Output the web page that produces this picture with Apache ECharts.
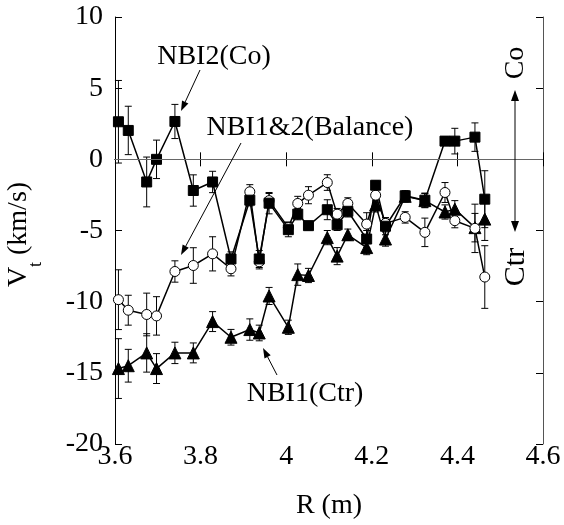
<!DOCTYPE html>
<html lang="en">
<head>
    <meta charset="UTF-8">
    <title>Vt profile</title>
    <script src="https://cdn.jsdelivr.net/npm/echarts@6/dist/echarts.min.js"></script>
    <style>
        html, body { margin: 0; padding: 0; background: #fff; }
        #chart { width: 564px; height: 525px; }
    </style>
</head>
<body>
<div id="chart"></div>
<script type="text/javascript">
    // major radius R (m), shared by the three profiles
    var R = [3.608, 3.631, 3.674, 3.697, 3.740, 3.783, 3.828, 3.871, 3.915, 3.937, 3.960, 4.005, 4.027,
        4.052, 4.096, 4.119, 4.144, 4.188, 4.209, 4.232, 4.278, 4.324, 4.371, 4.394, 4.441, 4.464];

    // NBI2 (Co)
    var co = [2.64, 2.03, -1.59, 0.0, 2.66, -2.19, -1.59, -7.0, -2.87, -7.0, -3.08, -4.94, -3.85,
        -4.66, -3.54, -4.6, -3.65, -5.6, -1.82, -4.7, -2.56, -2.87, 1.28, 1.28, 1.56, -2.8];
    var coErr = [2.9, 1.7, 1.75, 1.35, 1.2, 1.1, 0.75, 0.5, 0.4, 0.6, 0.75, 0.5, 0.4,
        0.3, 0.7, 0.4, 0.4, 0.6, 0.3, 0.6, 0.3, 0.5, 0.3, 0.9, 1.0, 2.0];

    // NBI1&2 (Balance)
    var bal = [-9.86, -10.6, -10.9, -11.0, -7.88, -7.46, -6.64, -7.69, -2.28, -7.2, -2.9, -4.8, -3.1,
        -2.52, -1.63, -3.85, -3.1, -4.55, -2.52, -4.5, -4.08, -5.13, -2.33, -4.31, -4.85, -8.27];
    var balErr = [2.1, 1.05, 1.5, 1.35, 0.75, 1.25, 1.2, 0.5, 0.5, 0.5, 0.5, 0.4, 0.5,
        0.6, 0.55, 0.4, 0.4, 0.8, 0.4, 0.4, 0.4, 1.0, 0.7, 0.5, 1.7, 2.2];

    // NBI1 (Ctr)
    var ctr = [-14.7, -14.5, -13.6, -14.7, -13.6, -13.6, -11.4, -12.5, -11.96, -12.2, -9.6, -11.8, -8.1,
        -8.16, -5.5, -6.8, -5.3, -6.2, -3.2, -5.6, -2.6, -2.9, -3.7, -3.5, -4.8, -4.2];
    var ctrErr = [2.1, 1.15, 1.35, 1.05, 0.75, 0.7, 0.7, 0.55, 0.75, 0.55, 0.6, 0.5, 0.75,
        0.5, 0.5, 0.6, 0.4, 0.5, 0.5, 0.5, 0.4, 0.5, 0.5, 0.6, 1.0, 1.5];

    var font = '"Liberation Serif", "Times New Roman", serif';

    function pairs(ys) {
        var out = [];
        for (var i = 0; i < R.length; i++) out.push([R[i], ys[i]]);
        return out;
    }

    function errs(ys, es) {
        var out = [];
        for (var i = 0; i < R.length; i++) out.push([R[i], ys[i] - es[i], ys[i] + es[i]]);
        return out;
    }

    function errorBars(name, data) {
        return {
            name: name,
            type: 'custom',
            data: data,
            encode: {x: 0, y: [1, 2]},
            z: 1,
            renderItem: function (params, api) {
                var top = api.coord([api.value(0), api.value(2)]);
                var bot = api.coord([api.value(0), api.value(1)]);
                var w = 3.5;
                var st = {stroke: '#000', lineWidth: 1};
                return {
                    type: 'group',
                    children: [
                        {type: 'line', shape: {x1: top[0], y1: top[1], x2: bot[0], y2: bot[1]}, style: st},
                        {type: 'line', shape: {x1: top[0] - w, y1: top[1], x2: top[0] + w, y2: top[1]}, style: st},
                        {type: 'line', shape: {x1: bot[0] - w, y1: bot[1], x2: bot[0] + w, y2: bot[1]}, style: st}
                    ]
                };
            }
        };
    }

    function profile(name, data, symbol, size, fill) {
        return {
            name: name,
            type: 'line',
            data: data,
            symbol: symbol,
            symbolSize: size,
            showAllSymbol: true,
            z: 3,
            lineStyle: {color: '#000', width: 1.5},
            itemStyle: {color: fill, borderColor: '#000', borderWidth: 1, opacity: 1}
        };
    }

    // arrow with filled head at (x2, y2)
    function arrow(x1, y1, x2, y2, len, half) {
        var dx = x2 - x1, dy = y2 - y1;
        var d = Math.sqrt(dx * dx + dy * dy);
        var ux = dx / d, uy = dy / d;
        var bx = x2 - ux * len, by = y2 - uy * len;
        return [
            {type: 'line', z: 10, shape: {x1: x1, y1: y1, x2: bx, y2: by}, style: {stroke: '#000', lineWidth: 1}},
            {type: 'polygon', z: 10, shape: {points: [[x2, y2], [bx - uy * half, by + ux * half], [bx + uy * half, by - ux * half]]},
                style: {fill: '#000'}}
        ];
    }

    function label(text, x, y, size, rot) {
        return {
            type: 'text', z: 10, x: x, y: y, rotation: rot || 0,
            style: {text: text, font: size + 'px ' + font, fill: '#000', align: 'center', verticalAlign: 'middle'}
        };
    }

    var graphics = [
        label('NBI2(Co)', 214, 57, 28),
        label('NBI1&2(Balance)', 310, 128, 28),
        label('NBI1(Ctr)', 305, 394, 28),
        label('Co', 516, 63, 28, Math.PI / 2),
        label('Ctr', 516, 267, 30, Math.PI / 2),
        {
            type: 'line', z: 10, shape: {x1: 515, y1: 100, x2: 515, y2: 222},
            style: {stroke: '#000', lineWidth: 1}
        },
        {type: 'polygon', z: 10, shape: {points: [[515, 90], [511, 101], [519, 101]]}, style: {fill: '#000'}},
        {type: 'polygon', z: 10, shape: {points: [[515, 232], [511, 221], [519, 221]]}, style: {fill: '#000'}},
        {
            type: 'group', x: 19, y: 287, rotation: Math.PI / 2,
            children: [
                {type: 'text', x: 0, y: 0, style: {text: 'V', font: '28px ' + font, fill: '#000', align: 'left', verticalAlign: 'middle'}},
                {type: 'text', x: 20, y: 17, style: {text: 't', font: '18px ' + font, fill: '#000', align: 'left', verticalAlign: 'middle'}},
                {type: 'text', x: 32, y: 0, style: {text: '(km/s)', font: '28px ' + font, fill: '#000', align: 'left', verticalAlign: 'middle'}}
            ]
        }
    ]
        .concat(arrow(200, 70, 181, 111, 10, 3.5))
        .concat(arrow(241, 143, 181, 255, 10, 3.5))
        .concat(arrow(277, 375, 263, 348, 10, 3.5));

    var axisBase = {
        type: 'value',
        splitLine: {show: false},
        axisLine: {show: true, lineStyle: {color: '#000', width: 1}},
        axisTick: {show: true, inside: true, length: 7, lineStyle: {color: '#000', width: 1}}
    };

    var myChart = echarts.init(document.getElementById('chart'));
    var option = {
        animation: false,
        backgroundColor: '#fff',
        grid: {left: 115, right: 21, top: 17, bottom: 79},
        xAxis: [
            Object.assign({}, axisBase, {
                min: 3.6, max: 4.6, interval: 0.2, position: 'bottom',
                name: 'R (m)', nameLocation: 'middle', nameGap: 48,
                nameTextStyle: {fontFamily: font, fontSize: 28, color: '#000'},
                axisLabel: {fontFamily: font, fontSize: 28, color: '#000', margin: -1}
            }),
            Object.assign({}, axisBase, {
                min: 3.6, max: 4.6, interval: 0.2, position: 'top', axisLabel: {show: false}
            })
        ],
        yAxis: [
            Object.assign({}, axisBase, {
                min: -20, max: 10, interval: 5, position: 'left',
                axisLabel: {fontFamily: font, fontSize: 28, color: '#000', margin: 12}
            }),
            Object.assign({}, axisBase, {
                min: -20, max: 10, interval: 5, position: 'right', axisLabel: {show: false},
                axisLine: {show: true, lineStyle: {color: '#555', width: 1}}
            })
        ],
        graphic: graphics,
        series: [
            errorBars('ctrErr', errs(ctr, ctrErr)),
            errorBars('balErr', errs(bal, balErr)),
            errorBars('coErr', errs(co, coErr)),
            Object.assign(profile('NBI1(Ctr)', pairs(ctr), 'triangle', 12, '#000'), {
                markLine: {
                    silent: true, symbol: 'none', label: {show: false},
                    lineStyle: {color: '#666', width: 1, type: 'solid'},
                    data: [{yAxis: 0}]
                }
            }),
            profile('NBI1&2(Balance)', pairs(bal), 'circle', 10, '#fff'),
            profile('NBI2(Co)', pairs(co), 'rect', 10, '#000')
        ]
    };
    myChart.setOption(option);
</script>
</body>
</html>
